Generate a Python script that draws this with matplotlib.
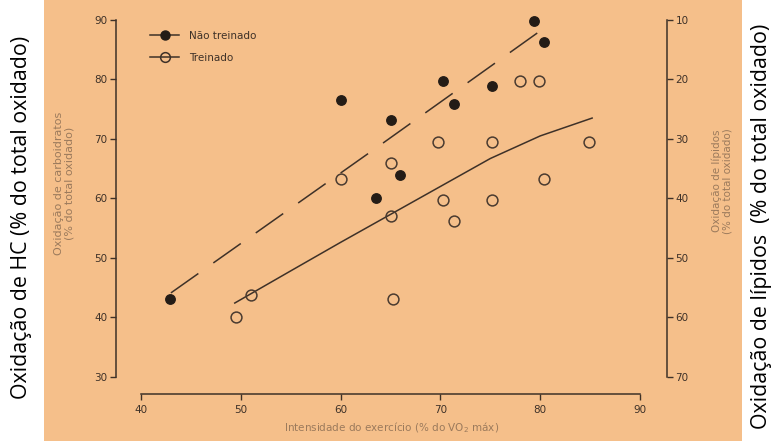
import matplotlib
matplotlib.use("Agg")
import matplotlib.pyplot as plt
from matplotlib.lines import Line2D
from matplotlib.patches import Rectangle

# Não treinado (filled)
nt_x = [42.9, 60.0, 65.0, 63.5, 66.0, 70.3, 71.4, 75.2, 79.4, 80.4]
nt_y = [43.1, 76.6, 73.2, 60.0, 64.0, 79.8, 75.9, 78.9, 89.8, 86.3]
# Treinado (open)
tr_x = [49.5, 51.0, 60.0, 65.0, 65.0, 65.3, 69.8, 70.3, 71.4, 75.2, 75.2, 78.0, 79.9, 80.4, 84.9]
tr_y = [40.0, 43.8, 63.3, 66.0, 57.1, 43.1, 69.5, 59.7, 56.2, 69.5, 59.7, 79.7, 79.7, 63.3, 69.5]

# trend lines
nt_line_x = [43.0, 64.0, 79.7]
nt_line_y = [44.1, 69.0, 87.8]
tr_line_x = [49.4, 55.0, 60.0, 65.0, 70.0, 75.0, 80.0, 85.2]
tr_line_y = [42.4, 47.8, 52.6, 57.3, 62.0, 66.7, 70.5, 73.5]

x_ticks = [40, 50, 60, 70, 80, 90]
cho_ticks = [30, 40, 50, 60, 70, 80, 90]
lip_ticks = [10, 20, 30, 40, 50, 60, 70]

tan = "#f5bf8a"
ink = "#3e3128"
soft = "#9b7a5c"

W, H = 774, 443
fig = plt.figure(figsize=(W / 100, H / 100), dpi=100)
fig.patch.set_facecolor("white")
fig.patches.append(Rectangle((44 / W, 2 / H), (742 - 44) / W, 1, transform=fig.transFigure,
                             facecolor=tan, edgecolor="none", zorder=-5))

ax = fig.add_axes([116 / W, 49 / H, 551 / W, 380 / H])
ax.set_facecolor("none")
ax.set_xlim(37.5, 92.7)
ax.set_ylim(27.1, 91.0)

ax.plot(nt_line_x, nt_line_y, color=ink, lw=1.1, dashes=(22, 12))
ax.plot(tr_line_x, tr_line_y, color=ink, lw=1.1)
ax.plot(nt_x, nt_y, "o", color="#241c16", markersize=6.8, ls="none")
ax.plot(tr_x, tr_y, "o", mfc="none", mec="#4a3b30", mew=1.1, markersize=7.8, ls="none")

for s in ["top", "right"]:
    ax.spines[s].set_visible(False)
ax.spines["left"].set_bounds(30, 90)
ax.spines["bottom"].set_bounds(40, 90)
for s in ["left", "bottom"]:
    ax.spines[s].set_color(ink)
    ax.spines[s].set_linewidth(1.1)
ax.set_xticks(x_ticks)
ax.set_yticks(cho_ticks)
ax.tick_params(colors=ink, labelsize=7.5, length=4, width=1, direction="out", pad=2)
ax.tick_params(axis="x", pad=4)

ax2 = ax.twinx()
ax2.set_ylim(100 - 27.1, 100 - 91.0)
ax2.set_yticks(lip_ticks)
for s in ["top", "left", "bottom"]:
    ax2.spines[s].set_visible(False)
ax2.spines["right"].set_bounds(10, 70)
ax2.spines["right"].set_color(ink)
ax2.spines["right"].set_linewidth(1.1)
ax2.tick_params(colors=ink, labelsize=7.5, length=4, width=1, direction="out", pad=2)

handles = [
    Line2D([], [], color=ink, lw=1.1, marker="o", markersize=6.5, mfc="#241c16", mec="#241c16"),
    Line2D([], [], color=ink, lw=1.1, marker="o", markersize=7, mfc="none", mec=ink, mew=1.1),
]
ax.legend(handles, ["Não treinado", "Treinado"], loc="upper left", bbox_to_anchor=(0.062, 0.955),
          frameon=False, fontsize=7.5, handlelength=2.8, handletextpad=0.9, labelspacing=1.1,
          borderpad=0, borderaxespad=0, labelcolor=ink)

ax.set_xlabel("Intensidade do exercício (% do VO$_2$ máx)", fontsize=7.5, color=soft, labelpad=4)

fig.text(64 / W, 1 - 183 / H, "Oxidação de carboidratos\n(% do total oxidado)", rotation=90,
         ha="center", va="center", fontsize=8, color=soft, linespacing=1.1, multialignment="center")
fig.text(722 / W, 1 - 181 / H, "Oxidação de lípidos\n(% do total oxidado)", rotation=90,
         ha="center", va="center", fontsize=7.5, color=soft, linespacing=1.1, multialignment="center")

fig.text(22 / W, 1 - 217 / H, "Oxidação de HC (% do total oxidado)", rotation=90,
         ha="center", va="center", fontsize=15.4, family="Open Sans", color="black")
fig.text(761 / W, 1 - 226 / H, "Oxidação de lípidos  (% do total oxidado)", rotation=90,
         ha="center", va="center", fontsize=15.4, family="Open Sans", color="black")

fig.savefig("out.png", dpi=100)
